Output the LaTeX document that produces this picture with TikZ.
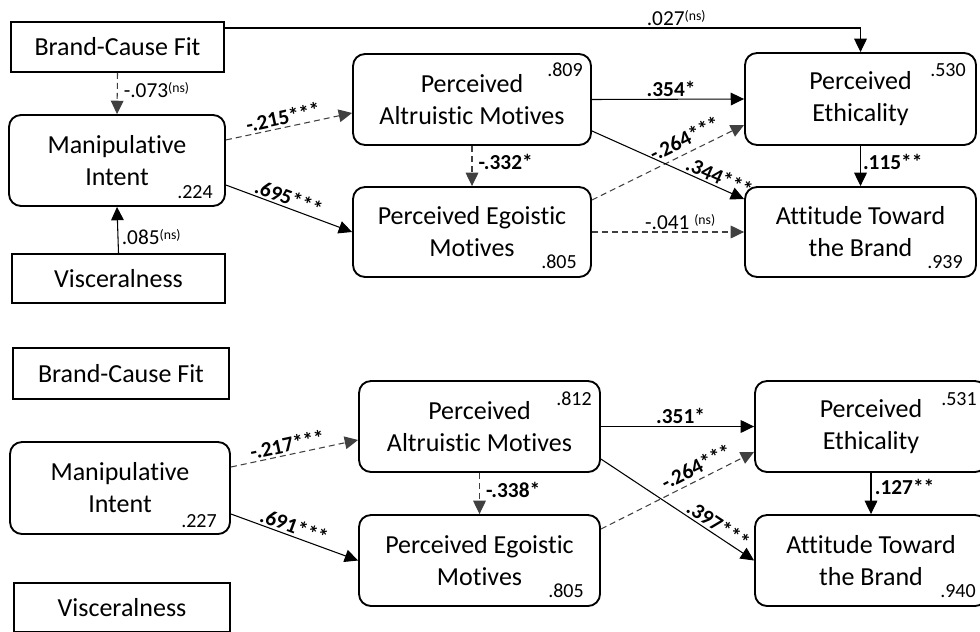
\documentclass[tikz,border=0pt]{standalone}
\usepackage{fontspec}
\setmainfont{Carlito}[RawFeature={-liga;-clig}]
\usetikzlibrary{arrows.meta}
\newcommand{\boxfont}{\fontsize{19.5}{24}\selectfont}
\newcommand{\lblfont}{\fontsize{16}{18}\selectfont}
\newcommand{\numfont}{\fontsize{15}{18}\selectfont}
\newcommand{\nsfont}{\fontsize{10.3}{12}\selectfont}
\newcommand{\nsmark}{\raisebox{3.5pt}{\nsfont(ns)}}
\tikzset{
  sbox/.style={draw, line width=1.4pt, font=\boxfont, align=center, inner sep=0pt},
  rbox/.style={sbox, rounded corners=9pt},
  arr/.style={-{Triangle[length=10pt,width=9.5pt]}, line width=0.8pt},
  dsh/.style={arr, draw=black!75, dash pattern=on 4.5pt off 3pt},
  lbl/.style={font=\lblfont, inner sep=1.5pt, text=black},
  blbl/.style={font=\lblfont\bfseries, inner sep=1.5pt, text=black},
  rsq/.style={font=\numfont, inner sep=0pt}
}
\begin{document}
\begin{tikzpicture}[x=0.75pt, y=-0.75pt]
\useasboundingbox (0,0) rectangle (980,631);
% ---------- top model ----------
\node[sbox, minimum width=159.75pt, minimum height=37.5pt] (bcf1) at (117.5,47) {Brand-Cause Fit};
\node[rbox, minimum width=162pt, minimum height=68.25pt] (mi1) at (117,160.5) {Manipulative\\Intent};
\node[sbox, minimum width=159.75pt, minimum height=36.75pt] (vis1) at (118.5,278.5) {Visceralness};
\node[rbox, minimum width=178.5pt, minimum height=68.25pt] (pam1) at (472,99.5) {Perceived\\Altruistic Motives};
\node[rbox, minimum width=178.5pt, minimum height=67.5pt] (pem1) at (472,232) {Perceived Egoistic\\Motives};
\node[rbox, minimum width=173.25pt, minimum height=69pt] (pe1) at (860.5,99) {Perceived\\Ethicality};
\node[rbox, minimum width=173.25pt, minimum height=67.5pt] (atb1) at (860.5,232) {Attitude Toward\\the Brand};

\node[rsq, anchor=base east] (r1mi) at (213,198) {.224};
\node[rsq, anchor=north east] (r1pam) at (583,63) {.809};
\node[rsq, anchor=base east] (r1pem) at (577,268) {.805};
\node[rsq, anchor=north east] (r1pe) at (966,63) {.530};
\node[rsq, anchor=base east] (r1atb) at (963,268) {.939};

\draw[arr] ([yshift=14.25pt]bcf1.east) -| (pe1.north)
  node[lbl, above, pos=0.355] {.027\nsmark};
\draw[dsh] (bcf1.south) -- (mi1.north)
  node[lbl, right, pos=0.42, xshift=3pt] {-.073\nsmark};
\draw[arr] (vis1.north) -- (mi1.south)
  node[lbl, right, pos=0.35, xshift=1pt] {.085\nsmark};
\draw[dsh] ([yshift=15.4pt]mi1.east) -- ([yshift=-10.1pt]pam1.west)
  node[blbl, sloped, above, pos=0.47] {-.215***};
\draw[arr] ([yshift=-18.4pt]mi1.east) -- (pem1.west)
  node[blbl, sloped, above, pos=0.47] {.695***};
\draw[dsh] (pam1.south) -- (pem1.north)
  node[blbl, right, pos=0.4, xshift=3pt] {-.332*};
\draw[arr] (pam1.east) -- (pe1.west)
  node[blbl, above, pos=0.52] {.354*};
\draw[dsh] ([yshift=24pt]pem1.east) -- ([yshift=-19.5pt]pe1.west)
  node[blbl, sloped, above, pos=0.65, yshift=3pt] {-.264***};
\draw[arr] ([yshift=-23.6pt]pam1.east) -- ([yshift=24.75pt]atb1.west)
  node[blbl, sloped, above, pos=0.81] {.344***};
\draw[arr] (pe1.south) -- (atb1.north)
  node[blbl, right, pos=0.4, xshift=0pt] {.115**};
\draw[dsh] (pem1.east) -- (atb1.west)
  node[lbl, above, pos=0.58] {-.041 \nsmark};

% ---------- bottom model ----------
\node[sbox, minimum width=162pt, minimum height=38.25pt] (bcf2) at (121,373.5) {Brand-Cause Fit};
\node[rbox, minimum width=165pt, minimum height=69pt] (mi2) at (120,488) {Manipulative\\Intent};
\node[sbox, minimum width=162pt, minimum height=36.75pt] (vis2) at (122,607.5) {Visceralness};
\node[rbox, minimum width=180.75pt, minimum height=68.25pt] (pam2) at (479.5,426.5) {Perceived\\Altruistic Motives};
\node[rbox, minimum width=180.75pt, minimum height=68.25pt] (pem2) at (479.5,560.5) {Perceived Egoistic\\Motives};
\node[rbox, minimum width=174pt, minimum height=68.25pt] (pe2) at (871,426.5) {Perceived\\Ethicality};
\node[rbox, minimum width=174pt, minimum height=68.25pt] (atb2) at (871,560.5) {Attitude Toward\\the Brand};

\node[rsq, anchor=base east] (r2mi) at (217,527) {.227};
\node[rsq, anchor=north east] (r2pam) at (592,392) {.812};
\node[rsq, anchor=base east] (r2pem) at (584,597) {.805};
\node[rsq, anchor=north east] (r2pe) at (977,392) {.531};
\node[rsq, anchor=base east] (r2atb) at (976,597) {.940};

\draw[dsh] ([yshift=15.75pt]mi2.east) -- ([yshift=-10.1pt]pam2.west)
  node[blbl, sloped, above, pos=0.46] {-.217***};
\draw[arr] ([yshift=-19.5pt]mi2.east) -- (pem2.west)
  node[blbl, sloped, above, pos=0.47] {.691***};
\draw[dsh] (pam2.south) -- (pem2.north)
  node[blbl, right, pos=0.42, xshift=3pt] {-.338*};
\draw[arr] (pam2.east) -- (pe2.west)
  node[blbl, above, pos=0.52] {.351*};
\draw[dsh] ([yshift=23.6pt]pem2.east) -- ([yshift=-19.1pt]pe2.west)
  node[blbl, sloped, above, pos=0.66, yshift=2pt] {-.264***};
\draw[arr] ([yshift=-24.4pt]pam2.east) -- (atb2.west)
  node[blbl, sloped, above, pos=0.73, yshift=0pt] {.397***};
\draw[arr] (pe2.south) -- (atb2.north)
  node[blbl, right, pos=0.35, xshift=1pt] {.127**};
\end{tikzpicture}
\end{document}
